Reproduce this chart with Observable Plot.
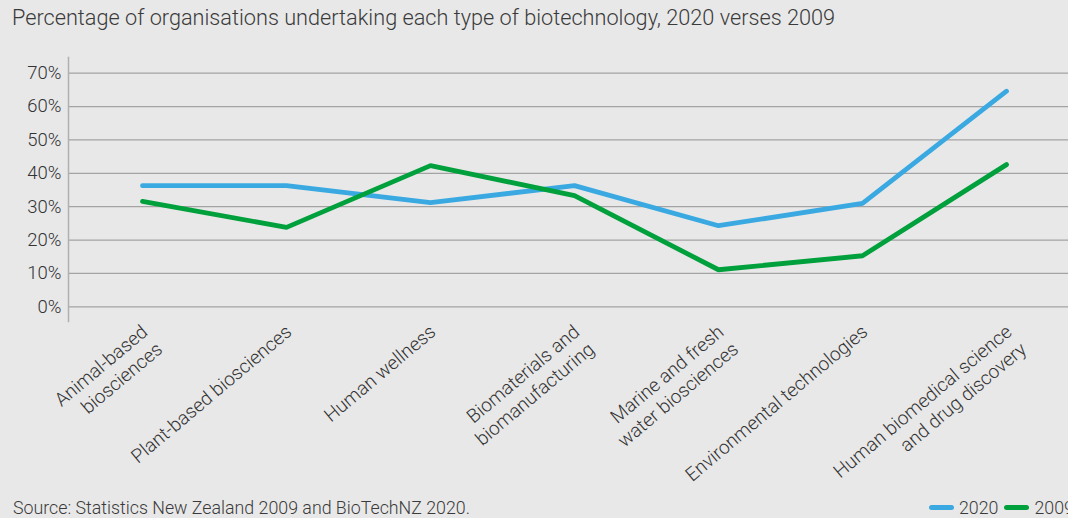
<!DOCTYPE html>
<html>
<head>
<meta charset="utf-8">
<script src="https://cdn.jsdelivr.net/npm/d3@7"></script>
<script src="https://cdn.jsdelivr.net/npm/@observablehq/plot@0.6"></script>
<style>
  html, body { margin: 0; padding: 0; background: #e8e8e8; overflow: hidden; }
  #wrap { position: relative; width: 1068px; height: 518px; background: #e8e8e8; font-family: Roboto, "Noto Sans", sans-serif; font-weight: 300; color: #3a3a3a; overflow: hidden; }
  #title { position: absolute; left: 12px; top: 5px; font-size: 21.7px; white-space: nowrap; }
  #chart { position: absolute; left: 0; top: 40px; }
  #source { position: absolute; left: 13px; top: 497px; font-size: 17.8px; white-space: nowrap; }
  #legend { position: absolute; left: 929px; top: 497px; font-size: 17.8px; white-space: nowrap; display: flex; align-items: center; }
  .sw { display: inline-block; width: 25px; height: 5px; border-radius: 3px; margin-right: 5px; }
  .item { display: inline-flex; align-items: center; margin-right: 6px; }
</style>
</head>
<body>
<div id="wrap">
  <div id="title"></div>
  <div id="chart"></div>
  <div id="source"></div>
  <div id="legend"></div>
</div>
<script>
const titleText = "Percentage of organisations undertaking each type of biotechnology, 2020 verses 2009";
const sourceText = "Source: Statistics New Zealand 2009 and BioTechNZ 2020.";

const categories = [
  "Animal-based\nbiosciences",
  "Plant-based biosciences",
  "Human wellness",
  "Biomaterials and\nbiomanufacturing",
  "Marine and fresh\nwater biosciences",
  "Environmental technologies",
  "Human biomedical science\nand drug discovery"
];
const values2020 = [36.3, 36.3, 31.2, 36.3, 24.3, 31.0, 64.6];
const values2009 = [31.6, 23.8, 42.3, 33.3, 11.1, 15.3, 42.6];
const seriesNames = ["2020", "2009"];
const seriesColors = ["#3aa9e1", "#00a03c"];
const yTicks = [0, 10, 20, 30, 40, 50, 60, 70];

const rows = [];
categories.forEach((c, i) => {
  rows.push({category: c, series: "2020", value: values2020[i]});
  rows.push({category: c, series: "2009", value: values2009[i]});
});

document.getElementById("title").textContent = titleText;
document.getElementById("source").textContent = sourceText;

const legend = document.getElementById("legend");
seriesNames.forEach((s, i) => {
  const it = document.createElement("span");
  it.className = "item";
  const sw = document.createElement("span");
  sw.className = "sw";
  sw.style.background = seriesColors[i];
  it.appendChild(sw);
  it.appendChild(document.createTextNode(s));
  legend.appendChild(it);
});

const H = 445;
const chart = Plot.plot({
  width: 1068,
  height: H,
  marginLeft: 68,
  marginRight: 0,
  marginTop: 17,
  marginBottom: H - 281,
  style: {background: "transparent", fontFamily: "Roboto, 'Noto Sans', sans-serif", fontWeight: 300, color: "#333", overflow: "visible"},
  x: {type: "point", domain: categories, range: [141, 1006.7], padding: 0},
  y: {domain: [0, 70], range: [266.3, 32.7]},
  color: {domain: seriesNames, range: seriesColors},
  marks: [
    Plot.gridY(yTicks, {stroke: "#a3a3a3", strokeOpacity: 1, strokeWidth: 1.2}),
    Plot.frame({anchor: "left", stroke: "#b0b0b0", strokeWidth: 1.5}),
    Plot.axisY(yTicks, {tickFormat: d => d + "%", tickSize: 0, tickPadding: 7, label: null, fill: "#333", fontSize: 18.5}),
    Plot.axisX({tickSize: 0, tickPadding: 0, dx: -4, tickRotate: -40, textAnchor: "end", lineAnchor: "top", lineHeight: 1.2, label: null, fill: "#333", fontSize: 19}),
    Plot.line(rows, {x: "category", y: "value", z: "series", stroke: "series", strokeWidth: 4.8, strokeLinecap: "round", strokeLinejoin: "miter"})
  ]
});
document.getElementById("chart").appendChild(chart);
</script>
</body>
</html>
